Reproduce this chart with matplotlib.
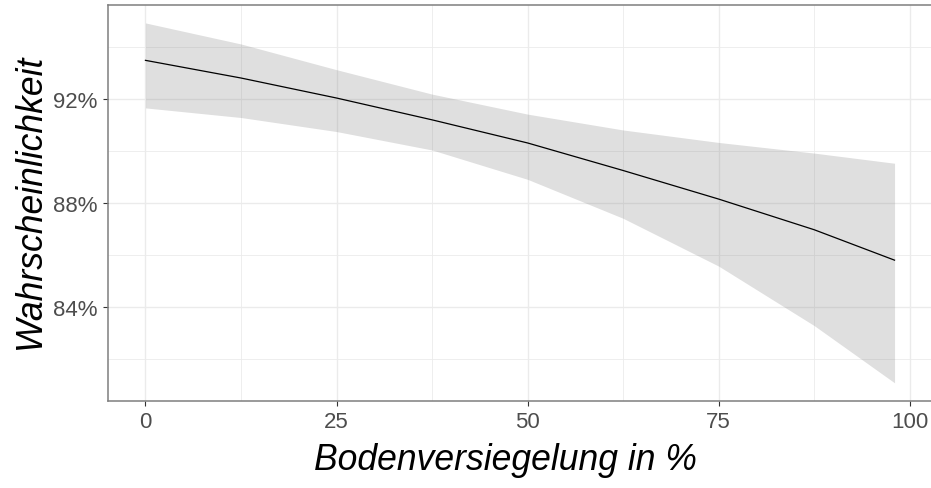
import numpy as np
import matplotlib
matplotlib.use("Agg")
import matplotlib.pyplot as plt
from matplotlib.ticker import FixedLocator, FuncFormatter

# values (probability in %, vs. soil sealing in %)
versiegelung = [0, 12.5, 25, 37.5, 50, 62.5, 75, 87.5, 98]
fit = [93.48, 92.80, 92.03, 91.19, 90.30, 89.24, 88.14, 86.96, 85.79]
upper = [94.92, 94.11, 93.12, 92.18, 91.41, 90.80, 90.32, 89.91, 89.52]
lower = [91.65, 91.28, 90.74, 90.03, 88.90, 87.40, 85.56, 83.27, 81.07]

x_ticks = [0, 25, 50, 75, 100]
x_minor = [12.5, 37.5, 62.5, 87.5]
y_ticks = [84, 88, 92]
y_minor = [82, 86, 90, 94]

W, H = 931, 489
fig = plt.figure(figsize=(W / 100, H / 100), dpi=100)
# panel runs slightly past the right edge of the picture, as in the reference
ax = fig.add_axes([108 / W, 1 - 402 / H, (932 - 108) / W, (402 - 6) / H])

ax.fill_between(versiegelung, lower, upper, color="#808080", alpha=0.25,
                linewidth=0, zorder=2)
ax.plot(versiegelung, fit, color="black", linewidth=0.9, zorder=3)

ax.set_xlim(-4.9, 102.9)
ax.set_ylim(80.37, 95.61)

ax.xaxis.set_major_locator(FixedLocator(x_ticks))
ax.xaxis.set_minor_locator(FixedLocator(x_minor))
ax.yaxis.set_major_locator(FixedLocator(y_ticks))
ax.yaxis.set_minor_locator(FixedLocator(y_minor))
ax.yaxis.set_major_formatter(FuncFormatter(lambda v, p: "%d%%" % v))

ax.grid(which="major", color="#ebebeb", linewidth=1.0, zorder=0)
ax.grid(which="minor", color="#ebebeb", linewidth=0.6, zorder=0)
ax.set_axisbelow(True)

ax.tick_params(which="major", length=3.5, width=0.8, color="#333333",
               labelsize=16, labelcolor="#4d4d4d", pad=4)
ax.tick_params(which="minor", length=0)
for lab in ax.get_xticklabels() + ax.get_yticklabels():
    lab.set_family("Liberation Sans")

for s in ax.spines.values():
    s.set_color("#7f7f7f")
    s.set_linewidth(1.1)
ax.spines["right"].set_visible(False)

fig.text(506 / W, 1 - 470 / H, "Bodenversiegelung in %", ha="center",
         va="baseline", fontsize=25.6, fontstyle="italic",
         family="Liberation Sans", color="black")
fig.text(40 / W, 1 - 201 / H, "Wahrscheinlichkeit", rotation=90,
         rotation_mode="anchor", ha="center", va="baseline", fontsize=25.6,
         fontstyle="italic", family="Liberation Sans", color="black")

fig.savefig("out.png", dpi=100)
